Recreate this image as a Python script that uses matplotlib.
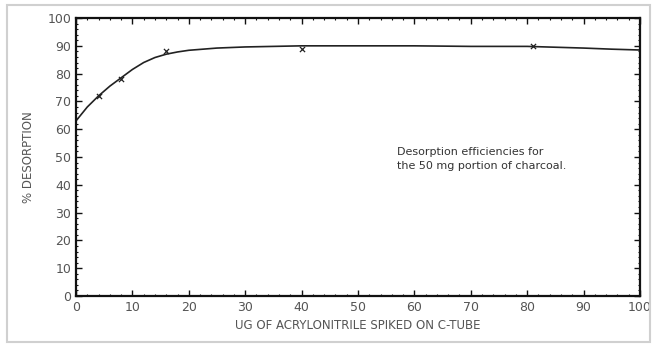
import numpy as np
import matplotlib.pyplot as plt
from matplotlib.patches import Rectangle
from matplotlib.ticker import MultipleLocator

# measured points
pts_x = [4, 8, 16, 40, 81]
pts_y = [72, 78, 88, 89, 90]

# fitted curve
curve_x = [0, 2, 4, 6, 8, 10, 12, 14, 16, 18, 20, 25, 30, 40, 50, 60, 70, 80, 90, 95, 100]
curve_y = [63, 68, 72, 75.5, 78.5, 81.5, 84, 85.8, 87, 87.8, 88.4, 89.2, 89.6, 90, 90, 90, 89.8, 89.8, 89.2, 88.8, 88.5]

tick_color = '#555555'

fig = plt.figure(figsize=(6.57, 3.47), dpi=100)
fig.patches.append(Rectangle((0.011, 0.015), 0.978, 0.972, transform=fig.transFigure,
                             fill=False, edgecolor='#d0d0d0', linewidth=1.5))

ax = fig.add_axes([0.1157, 0.147, 0.8583, 0.801])
ax.plot(curve_x, curve_y, color='#222222', linewidth=1.2)
ax.scatter(pts_x, pts_y, marker='x', s=14, color='#222222', linewidths=0.9, zorder=3)

ax.set_xlim(0, 100)
ax.set_ylim(0, 100)
ax.xaxis.set_major_locator(MultipleLocator(10))
ax.yaxis.set_major_locator(MultipleLocator(10))
ax.xaxis.set_minor_locator(MultipleLocator(2))
ax.yaxis.set_minor_locator(MultipleLocator(2))
ax.tick_params(which='both', direction='in', top=True, right=True, labelsize=9,
               labelcolor=tick_color, color='#111111')
ax.tick_params(which='major', length=4, width=1)
ax.tick_params(which='minor', length=1.5, width=0.8)
for s in ax.spines.values():
    s.set_linewidth(1.6)
    s.set_color('#111111')

ax.set_xlabel('UG OF ACRYLONITRILE SPIKED ON C-TUBE', fontsize=8.5, color=tick_color, labelpad=4)
ax.set_ylabel('% DESORPTION', fontsize=8.5, color=tick_color, labelpad=9)

ax.text(57, 53.5, 'Desorption efficiencies for\nthe 50 mg portion of charcoal.',
        fontsize=8, color='#333333', va='top', ha='left', linespacing=1.5)

fig.savefig('out.png', dpi=100)
